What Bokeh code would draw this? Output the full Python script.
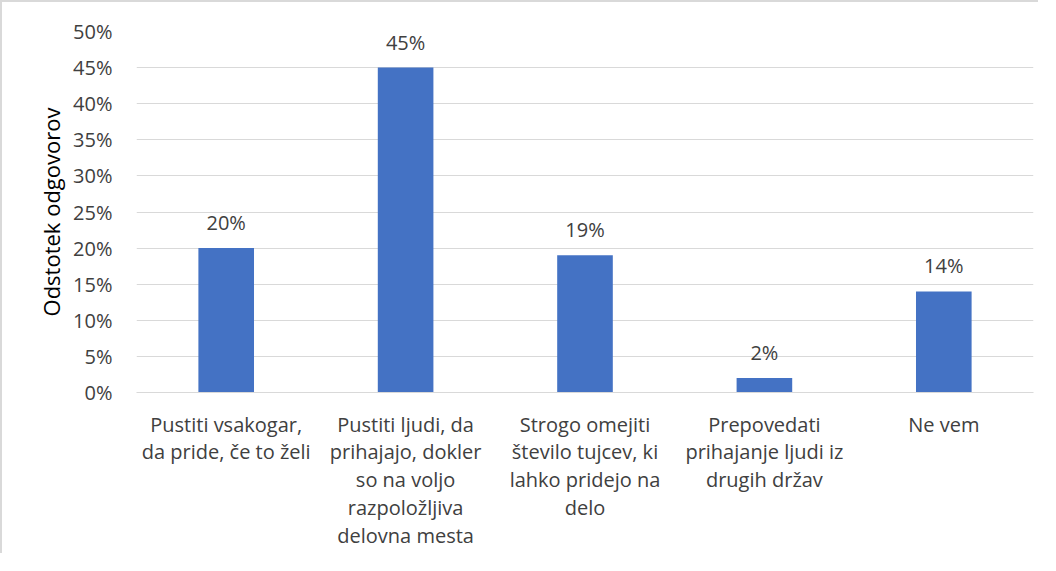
from bokeh.plotting import figure
from bokeh.models import ColumnDataSource, LabelSet, NumeralTickFormatter, FixedTicker, Range1d
from bokeh.core.properties import value
from bokeh.embed import file_html
from bokeh.resources import INLINE

categories = [
    "Pustiti vsakogar,\nda pride, če to želi",
    "Pustiti ljudi, da\nprihajajo, dokler\nso na voljo\nrazpoložljiva\ndelovna mesta",
    "Strogo omejiti\nštevilo tujcev, ki\nlahko pridejo na\ndelo",
    "Prepovedati\nprihajanje ljudi iz\ndrugih držav",
    "Ne vem",
]
values = [0.20, 0.45, 0.19, 0.02, 0.14]
labels = ["20%", "45%", "19%", "2%", "14%"]
y_ticks = [0.0, 0.05, 0.10, 0.15, 0.20, 0.25, 0.30, 0.35, 0.40, 0.45, 0.50]

FONT = "Open Sans"
TXT = "#404040"

src = ColumnDataSource(dict(cat=categories, val=values, lab=labels))

p = figure(
    x_range=categories,
    y_range=Range1d(0, 0.5),
    width=1038, height=553,
    output_backend="svg", toolbar_location=None, tools="",
    min_border_left=134, min_border_right=7, min_border_top=29, min_border_bottom=163,
)
p.styles = {"border-top": "2px solid #D9D9D9", "border-left": "2px solid #D9D9D9"}
p.outline_line_color = None
p.background_fill_color = "white"
p.border_fill_color = "white"

p.vbar(x="cat", top="val", width=0.31, source=src, fill_color="#4472C4", line_color=None)

p.add_layout(LabelSet(x="cat", y="val", text="lab", source=src, y_offset=18,
                      text_align="center", text_baseline="alphabetic",
                      text_font=value(FONT), text_font_size=value("20px"), text_color=TXT))

p.yaxis.ticker = FixedTicker(ticks=y_ticks)
p.yaxis.formatter = NumeralTickFormatter(format="0%")
p.yaxis.axis_line_color = None
p.yaxis.major_tick_line_color = None
p.yaxis.minor_tick_line_color = None
p.yaxis.major_label_standoff = 18
p.yaxis.major_label_text_font = FONT
p.yaxis.major_label_text_font_size = "20px"
p.yaxis.major_label_text_color = TXT
p.yaxis.axis_label = "Odstotek odgovorov"
p.yaxis.axis_label_text_font = FONT
p.yaxis.axis_label_text_font_size = "22px"
p.yaxis.axis_label_text_font_style = "normal"
p.yaxis.axis_label_text_color = "#000000"
p.yaxis.axis_label_standoff = 4

p.xaxis.axis_line_color = "#D9D9D9"
p.xaxis.axis_line_width = 1
p.xaxis.major_tick_line_color = None
p.xaxis.minor_tick_line_color = None
p.xaxis.major_label_standoff = 12
p.xaxis.major_label_text_font = FONT
p.xaxis.major_label_text_font_size = "20px"
p.xaxis.major_label_text_color = TXT
p.xaxis.major_label_text_line_height = 1.03

p.xgrid.grid_line_color = None
p.ygrid.grid_line_color = "#D9D9D9"
p.ygrid.grid_line_width = 1

open("out.html", "w").write(file_html(p, INLINE))
